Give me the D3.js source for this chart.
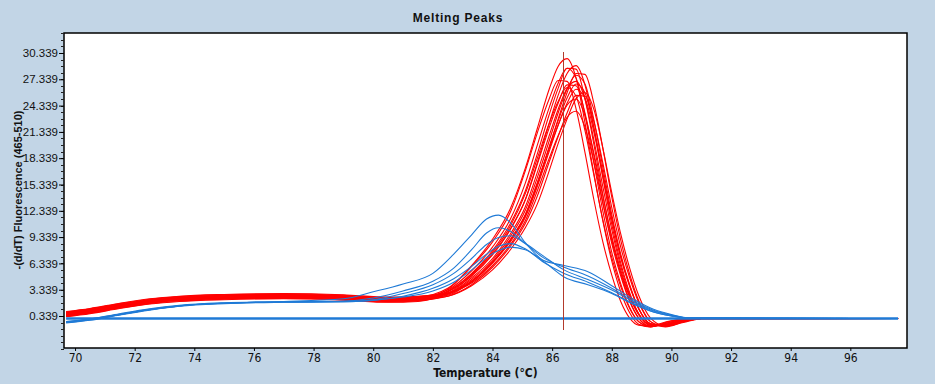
<!DOCTYPE html>
<html>
<head>
<meta charset="utf-8">
<script src="https://cdn.jsdelivr.net/npm/d3@7"></script>
<style>
  body { margin: 0; background: #c2d5e6; }
  svg { display: block; }
  .ytick text { font-family: "Liberation Sans", Arial, sans-serif; font-size: 11.5px; fill: #111; }
  .xtick text { font-family: "Liberation Sans Narrow", "DejaVu Sans Condensed", sans-serif; font-size: 12px; fill: #111; }
</style>
</head>
<body>
<script>
// ---------------------------- DATA ----------------------------
const xTicks = [70, 72, 74, 76, 78, 80, 82, 84, 86, 88, 90, 92, 94, 96];
const yTicks = [0.339, 3.339, 6.339, 9.339, 12.339, 15.339, 18.339, 21.339, 24.339, 27.339, 30.339];

// temperatures shared by the red (sample) curves
const redTemps = [69.7, 70.5, 71.5, 72.5, 73.5, 75, 77, 79, 80.5, 81.5,
  82.5, 83.3, 84, 84.6, 85.1, 85.5, 85.9, 86.2, 86.5, 86.8, 87.1, 87.4, 87.7, 88, 88.3, 88.6, 88.9, 89.3, 89.8, 90.4, 91,
  97.6];

const redA = [0.75, 1.1, 1.7, 2.2, 2.5, 2.7, 2.8, 2.65, 2.4, 2.5,
  3.5, 6.1, 9.1, 12.6, 17.2, 21.7, 26.2, 28.8, 29.7, 27.5, 22.4, 16.6, 11.2, 6.6, 3.1, 0.7, -0.6, -0.9, -0.4, 0, 0.05, 0.05];
const redB = [0.65, 1.0, 1.6, 2.1, 2.4, 2.6, 2.7, 2.55, 2.3, 2.4,
  3.3, 5.5, 8.2, 11.4, 15.5, 19.8, 24.1, 26.9, 28.6, 27.5, 23.3, 17.8, 12.3, 7.6, 4.0, 1.3, -0.3, -0.9, -0.5, -0.05, 0.05, 0.05];
const redC = [0.55, 0.9, 1.5, 2.0, 2.3, 2.5, 2.6, 2.45, 2.2, 2.3,
  3.1, 4.9, 7.3, 10.2, 13.6, 17.6, 21.8, 24.6, 26.7, 26.6, 23.5, 18.6, 13.3, 8.6, 4.9, 2.0, 0.1, -0.8, -0.6, -0.1, 0.05, 0.05];
const redD = [0.35, 0.7, 1.3, 1.8, 2.1, 2.3, 2.4, 2.25, 2.0, 2.1,
  2.9, 4.1, 6.1, 8.5, 11.2, 14.6, 18.3, 20.9, 23.0, 23.7, 21.9, 17.9, 13.2, 8.9, 5.3, 2.5, 0.5, -0.6, -0.6, -0.15, 0.05, 0.05];
const redE = [0.85, 1.2, 1.8, 2.3, 2.6, 2.8, 2.9, 2.75, 2.5, 2.6,
  3.0, 5.0, 7.4, 10.3, 13.6, 17.8, 22.3, 25.5, 28.0, 28.9, 26.7, 21.8, 16.1, 10.8, 6.4, 3.0, 0.6, -0.75, -0.75, -0.18, 0.05, 0.05];
const redF = [0.45, 0.8, 1.4, 1.9, 2.2, 2.4, 2.5, 2.35, 2.1, 2.2,
  2.9, 4.3, 6.4, 9.0, 11.8, 15.5, 19.4, 22.1, 24.4, 25.1, 23.2, 18.9, 14.0, 9.4, 5.6, 2.6, 0.6, -0.65, -0.65, -0.16, 0.05, 0.05];
const redG = [0.7, 1.05, 1.65, 2.15, 2.45, 2.65, 2.75, 2.6, 2.35, 2.45,
  2.9, 4.5, 6.7, 9.4, 12.4, 16.1, 20.3, 23.5, 26.2, 27.8, 26.8, 22.7, 17.3, 11.9, 7.4, 3.9, 1.2, -0.55, -0.8, -0.25, 0.05, 0.05];
const redH = [0.3, 0.65, 1.25, 1.75, 2.05, 2.25, 2.35, 2.2, 1.95, 2.05,
  2.8, 4.2, 6.4, 8.8, 11.6, 15.1, 19.1, 22.1, 24.6, 26.2, 25.2, 21.3, 16.3, 11.3, 7.0, 3.7, 1.2, -0.55, -0.8, -0.25, 0.05, 0.05];
const redI = [0.6, 0.95, 1.55, 2.05, 2.35, 2.55, 2.65, 2.5, 2.25, 2.35,
  2.7, 4.3, 6.5, 9.1, 11.9, 15.3, 19.6, 22.8, 25.8, 28.0, 27.9, 24.6, 19.5, 13.9, 9.0, 5.1, 2.1, -0.3, -0.9, -0.35, 0.03, 0.05];
const redJ = [0.4, 0.75, 1.35, 1.85, 2.15, 2.35, 2.45, 2.3, 2.05, 2.15,
  2.6, 3.9, 5.9, 8.3, 10.9, 14.0, 17.9, 20.8, 23.5, 25.5, 25.4, 22.5, 17.8, 12.7, 8.2, 4.7, 1.9, -0.3, -0.8, -0.3, 0.03, 0.05];
const redK = [0.8, 1.15, 1.75, 2.25, 2.55, 2.75, 2.85, 2.7, 2.45, 2.55,
  2.95, 4.7, 6.9, 9.7, 12.8, 16.7, 20.9, 23.9, 26.3, 27.1, 25.1, 20.4, 15.1, 10.2, 6.0, 2.8, 0.6, -0.7, -0.7, -0.17, 0.05, 0.05];
const redL = [0.5, 0.85, 1.45, 1.95, 2.25, 2.45, 2.55, 2.4, 2.15, 2.25,
  3.2, 5.1, 7.6, 10.6, 14.3, 18.3, 22.3, 24.8, 26.4, 25.4, 21.5, 16.4, 11.3, 7.0, 3.7, 1.2, -0.3, -0.85, -0.5, -0.05, 0.05, 0.05];
const redM = [0.65, 1.0, 1.6, 2.1, 2.4, 2.6, 2.7, 2.55, 2.3, 2.4,
  2.85, 4.3, 6.5, 9.0, 11.9, 15.5, 19.6, 22.6, 25.2, 26.8, 25.8, 21.8, 16.7, 11.5, 7.1, 3.8, 1.2, -0.55, -0.8, -0.25, 0.05, 0.05];
const redN = [0.25, 0.6, 1.2, 1.7, 2.0, 2.2, 2.3, 2.15, 1.9, 2.0,
  3.1, 5.2, 7.8, 10.9, 14.6, 18.8, 23.3, 26.3, 28.6, 28.5, 25.1, 19.9, 14.2, 9.2, 5.2, 2.1, 0.1, -0.85, -0.65, -0.1, 0.05, 0.05];
const redO = [0.6, 0.95, 1.55, 2.05, 2.35, 2.55, 2.65, 2.5, 2.25, 2.35,
  3.4, 6.0, 8.8, 12.2, 16.9, 21.2, 25.1, 27.2, 27.1, 24.0, 19.0, 13.6, 8.8, 5.0, 2.0, 0.1, -0.7, -0.8, -0.35, 0.0, 0.05, 0.05];
const redP = [0.45, 0.8, 1.4, 1.9, 2.2, 2.4, 2.5, 2.35, 2.1, 2.2,
  2.6, 3.8, 5.6, 7.9, 10.4, 13.1, 16.9, 20.0, 22.8, 25.1, 25.8, 23.9, 19.5, 14.4, 9.7, 5.8, 2.7, 0.1, -0.8, -0.4, 0.0, 0.05];

// temperatures shared by the blue curves
const blueTemps = [69.7, 70.5, 71.5, 72.5, 73.5, 75, 77, 79, 80, 81, 82, 82.7, 83.3, 83.8, 84.2, 84.6,
  85.1, 85.7, 86.4, 87.2, 88, 88.7, 89.4, 90, 90.6, 97.6];
const blue1 = [-0.3, 0.0, 0.6, 1.15, 1.55, 1.85, 2.0, 2.3, 3.1, 4.0, 5.2, 7.4, 9.6, 11.4, 11.85, 11.0,
  8.7, 6.7, 6.1, 5.4, 3.8, 2.3, 1.1, 0.5, 0.1, 0.05];
const blue2 = [-0.4, -0.1, 0.5, 1.05, 1.5, 1.8, 1.95, 2.05, 2.4, 3.2, 4.3, 5.8, 7.9, 9.8, 10.4, 10.0,
  8.6, 7.0, 5.9, 4.9, 3.5, 2.1, 1.0, 0.45, 0.1, 0.05];
const blue3 = [-0.3, 0.0, 0.55, 1.1, 1.5, 1.8, 1.95, 2.0, 2.2, 2.9, 3.9, 5.2, 6.9, 8.5, 9.3, 9.5,
  8.6, 7.2, 5.6, 4.5, 3.3, 2.0, 0.9, 0.4, 0.1, 0.05];
const blue4 = [-0.45, -0.15, 0.45, 1.0, 1.45, 1.75, 1.9, 1.95, 2.1, 2.6, 3.5, 4.6, 6.0, 7.4, 8.3, 8.6,
  8.0, 6.5, 5.2, 4.2, 3.0, 1.8, 0.8, 0.35, 0.1, 0.05];
const blue5 = [-0.35, -0.05, 0.5, 1.05, 1.5, 1.8, 1.95, 2.0, 2.15, 2.5, 3.2, 4.2, 5.6, 7.0, 7.8, 8.2,
  7.9, 6.6, 4.8, 3.9, 2.9, 1.7, 0.8, 0.35, 0.1, 0.05];

// flat negative controls
const baseTemps = [69.7, 97.6];
const baseVals = [0.05, 0.05];

// Tm marker
const markerTemp = 86.38;
const markerRange = [-1.26, 30.5];

//----------------------------- SVG ------------------------------//
const width = 935, height = 384;
const plot = { left: 64, top: 33, right: 907, bottom: 348 };

const svg = d3.select("body").append("svg")
  .attr("width", width)
  .attr("height", height);

const x = d3.scaleLinear().domain([69.63, 97.9]).range([plot.left, plot.right]);
const y = d3.scaleLinear().domain([-3.31, 32.62]).range([plot.bottom, plot.top]);

svg.append("rect")
  .attr("x", plot.left).attr("y", plot.top)
  .attr("width", plot.right - plot.left).attr("height", plot.bottom - plot.top)
  .attr("fill", "#fff");

svg.append("clipPath").attr("id", "clip").append("rect")
  .attr("x", plot.left).attr("y", plot.top)
  .attr("width", plot.right - plot.left).attr("height", plot.bottom - plot.top);

//---------------------------- LINES ----------------------------//
const line = d3.line()
  .x(d => x(d[0]))
  .y(d => y(d[1]))
  .curve(d3.curveMonotoneX);

const zip = (ts, vs) => ts.map((t, i) => [t, vs[i]]);

const g = svg.append("g").attr("clip-path", "url(#clip)");

const reds = [redA, redB, redC, redD, redE, redF, redG, redH, redI, redJ, redK, redL, redM, redN, redO, redP];
g.selectAll(".red").data(reds).enter().append("path")
  .attr("class", "red")
  .attr("d", d => line(zip(redTemps, d)))
  .attr("fill", "none")
  .attr("stroke", "#ff0000")
  .attr("stroke-width", 1.1);

g.append("path")
  .attr("d", line(zip(baseTemps, baseVals)))
  .attr("fill", "none")
  .attr("stroke", "#1f7ad6")
  .attr("stroke-width", 2.5);

const blues = [blue1, blue2, blue3, blue4, blue5];
g.selectAll(".blue").data(blues).enter().append("path")
  .attr("class", "blue")
  .attr("d", d => line(zip(blueTemps, d)))
  .attr("fill", "none")
  .attr("stroke", "#1f7ad6")
  .attr("stroke-width", 1.1);

const mx = Math.round(x(markerTemp)) + 0.5;
g.append("line")
  .attr("x1", mx).attr("x2", mx)
  .attr("y1", y(markerRange[0])).attr("y2", y(markerRange[1]))
  .attr("stroke", "#b23a2c")
  .attr("stroke-width", 1)
  .attr("shape-rendering", "crispEdges");

//----------------------------- AXES ----------------------------//
svg.append("rect")
  .attr("x", plot.left).attr("y", plot.top)
  .attr("width", plot.right - plot.left).attr("height", plot.bottom - plot.top)
  .attr("fill", "none")
  .attr("stroke", "#000")
  .attr("stroke-width", 1.5);

const yMinor = d3.range(-3.411, 32.6, 0.75);
svg.append("g").selectAll("line").data(yMinor).enter().append("line")
  .attr("x1", plot.left - 3).attr("x2", plot.left)
  .attr("y1", d => Math.round(y(d)) + 0.5).attr("y2", d => Math.round(y(d)) + 0.5)
  .attr("stroke", "#222");

const yaxis = d3.axisLeft(y).tickValues(yTicks).tickFormat(d3.format(".3f")).tickSize(5).tickPadding(1);
svg.append("g")
  .attr("class", "ytick")
  .attr("transform", "translate(" + plot.left + ",0)")
  .call(yaxis)
  .call(s => s.select(".domain").remove())
  .call(s => s.selectAll("text").attr("font-family", null).attr("font-size", null));

const xaxis = d3.axisBottom(x).tickValues(xTicks).tickSize(3).tickPadding(2);
svg.append("g")
  .attr("class", "xtick")
  .attr("transform", "translate(0," + plot.bottom + ")")
  .call(xaxis)
  .call(s => s.select(".domain").remove())
  .call(s => s.selectAll("text").attr("font-family", null).attr("font-size", null));

//----------------------------- TEXT ----------------------------//
svg.append("text")
  .attr("x", 458).attr("y", 22)
  .attr("text-anchor", "middle")
  .attr("font-family", "Liberation Sans, Arial, sans-serif")
  .attr("font-weight", "bold")
  .attr("font-size", 12)
  .attr("letter-spacing", 0.8)
  .attr("fill", "#111")
  .text("Melting Peaks");

svg.append("text")
  .attr("x", (plot.left + plot.right) / 2).attr("y", 377)
  .attr("text-anchor", "middle")
  .attr("font-family", "Liberation Sans Narrow, DejaVu Sans Condensed, sans-serif")
  .attr("font-weight", "bold")
  .attr("font-size", 12)
  .attr("fill", "#111")
  .text("Temperature (°C)");

svg.append("text")
  .attr("transform", "translate(22,190) rotate(-90)")
  .attr("text-anchor", "middle")
  .attr("font-family", "Liberation Sans, Arial, sans-serif")
  .attr("font-weight", "bold")
  .attr("font-size", 11)
  .attr("fill", "#111")
  .text("-(d/dT) Fluorescence (465-510)");
</script>
</body>
</html>
